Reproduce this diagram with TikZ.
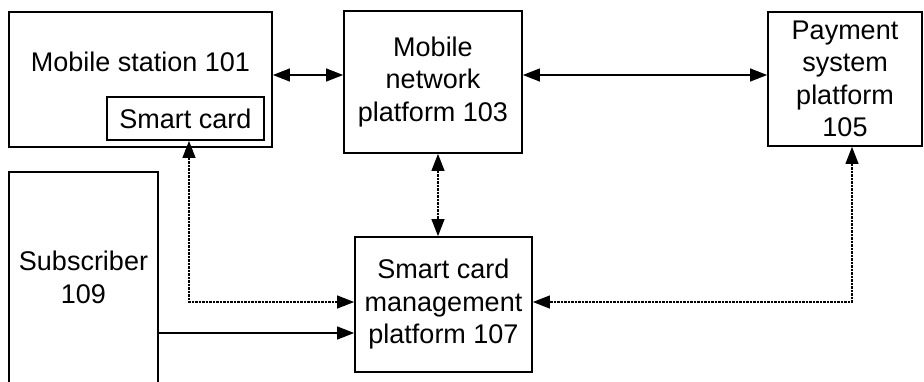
\documentclass[tikz,border=0pt]{standalone}
\usepackage{fontspec}
\setmainfont{Liberation Sans}
\usetikzlibrary{arrows.meta}
\usetikzlibrary{positioning}
\usetikzlibrary{calc}

\begin{document}
\begin{tikzpicture}[
      x = 1pt, y = -1pt,
      >={Triangle[length=17pt, width=13pt]},
      box/.style = {
        draw = black, line width = 1.8pt,
        inner sep = 0pt, align = center,
        font = \fontsize{27pt}{32.5pt}\selectfont
      },
      link/.style = { line width = 1.2pt },
      dotlink/.style = { link, dash pattern = on 2.5pt off 1pt },
    ]

    \path[use as bounding box, clip] (0,0) rectangle (924,381);

    \node[box, minimum width = 263pt, minimum height = 135pt, text depth = 35pt] (MS) at (140.5,79.5) {Mobile station 101};
    \node[box, minimum width = 157pt, minimum height = 43pt, anchor = south east] (SC)
      at ([xshift=-8pt, yshift=7pt]MS.south east) {Smart card};
    \node[box, minimum width = 178pt, minimum height = 142pt] (MNP) at (433,82) {Mobile\\network\\platform 103};
    \node[box, minimum width = 154pt, minimum height = 134pt] (PAY) at (845,79) {Payment\\system\\platform\\105};
    \node[box, minimum width = 149pt, minimum height = 211pt] (SUB) at (83.5,277.5) {Subscriber\\109};
    \node[box, minimum width = 177pt, minimum height = 135pt] (SCM) at (443.5,304.5) {Smart card\\management\\platform 107};

    \coordinate (row) at (0,75);
    \coordinate (SCMlow) at ([yshift=-28.5pt]SCM.west);

    \draw[link, <->] (MS.east |- row) -- (MNP.west |- row);
    \draw[link, <->] (MNP.east |- row) -- (PAY.west |- row);
    \draw[dotlink, <->] ([xshift=3.5pt]SC.south) |- ([yshift=2.5pt]SCM.west);
    \draw[dotlink, <->] ([xshift=5pt]MNP.south) -- ([xshift=5pt]MNP.south |- SCM.north);
    \draw[dotlink, <->] ([xshift=7pt]PAY.south) |- ([yshift=2.5pt]SCM.east);
    \draw[link, ->] (SUB.east |- SCMlow) -- (SCMlow);
  \end{tikzpicture}
\end{document}
